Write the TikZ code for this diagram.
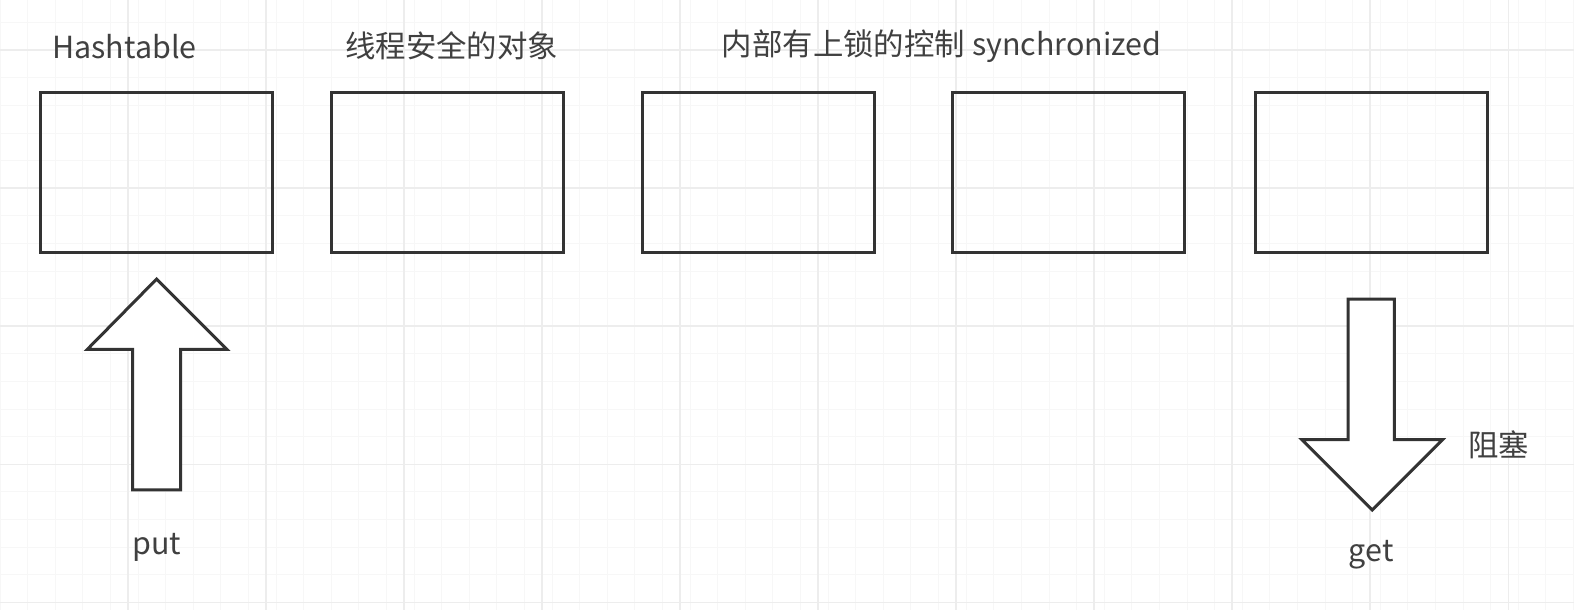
\documentclass[tikz,border=0pt]{standalone}
\usepackage{fontspec}
\setmainfont{Noto Sans CJK SC}
\begin{document}
\begin{tikzpicture}[x=1pt,y=-1pt,
  box/.style={draw=black!80,line width=3pt,minimum width=231pt,minimum height=160pt,inner sep=0pt},
  lbl/.style={text=black!75,font=\fontsize{30.3}{36}\selectfont,inner sep=0pt},
  bigarrow/.style={draw=black!80,line width=3pt,fill=white,line join=miter}]
\useasboundingbox (0,0) rectangle (1568,608);
\fill[white] (0,0) rectangle (1568,608);
% faint grid
\foreach \x in {0,27.5,...,1568} \draw[black!3,line width=1pt] (\x,0) -- (\x,608);
\foreach \y in {22.5,50,...,608} \draw[black!3,line width=1pt] (0,\y) -- (1568,\y);
\foreach \x in {-10,127.5,...,1568} \draw[black!7,line width=1.5pt] (\x,0) -- (\x,608);
\foreach \y in {50,187.5,...,608} \draw[black!7,line width=1.5pt] (0,\y) -- (1568,\y);
% boxes
\node[box] (b1) at (156,172) {};
\node[box] (b2) at (446,172) {};
\node[box] (b3) at (756,172) {};
\node[box] (b4) at (1064,172) {};
\node[box] (b5) at (1366,172) {};
% top labels
\node[lbl] (t1) at (124,46) {Hashtable};
\node[lbl] (t2) at (450,46) {线程安全的对象};
\node[lbl] (t3) at (938,46) {内部有上锁的控制 synchronized};
% up arrow (put)
\draw[bigarrow] (156,278) -- (226,348) -- (180,348) -- (180,488) -- (132,488) -- (132,348) -- (87,348) -- cycle;
\node[lbl] (put) at (156,545) {put};
% down arrow (get)
\draw[bigarrow] (1343,298) -- (1389,298) -- (1389,438) -- (1437,438) -- (1367,508) -- (1297,438) -- (1343,438) -- cycle;
\node[lbl] (get) at (1366,553) {get};
\node[lbl] (zs) at (1493,443) {阻塞};
\end{tikzpicture}
\end{document}
